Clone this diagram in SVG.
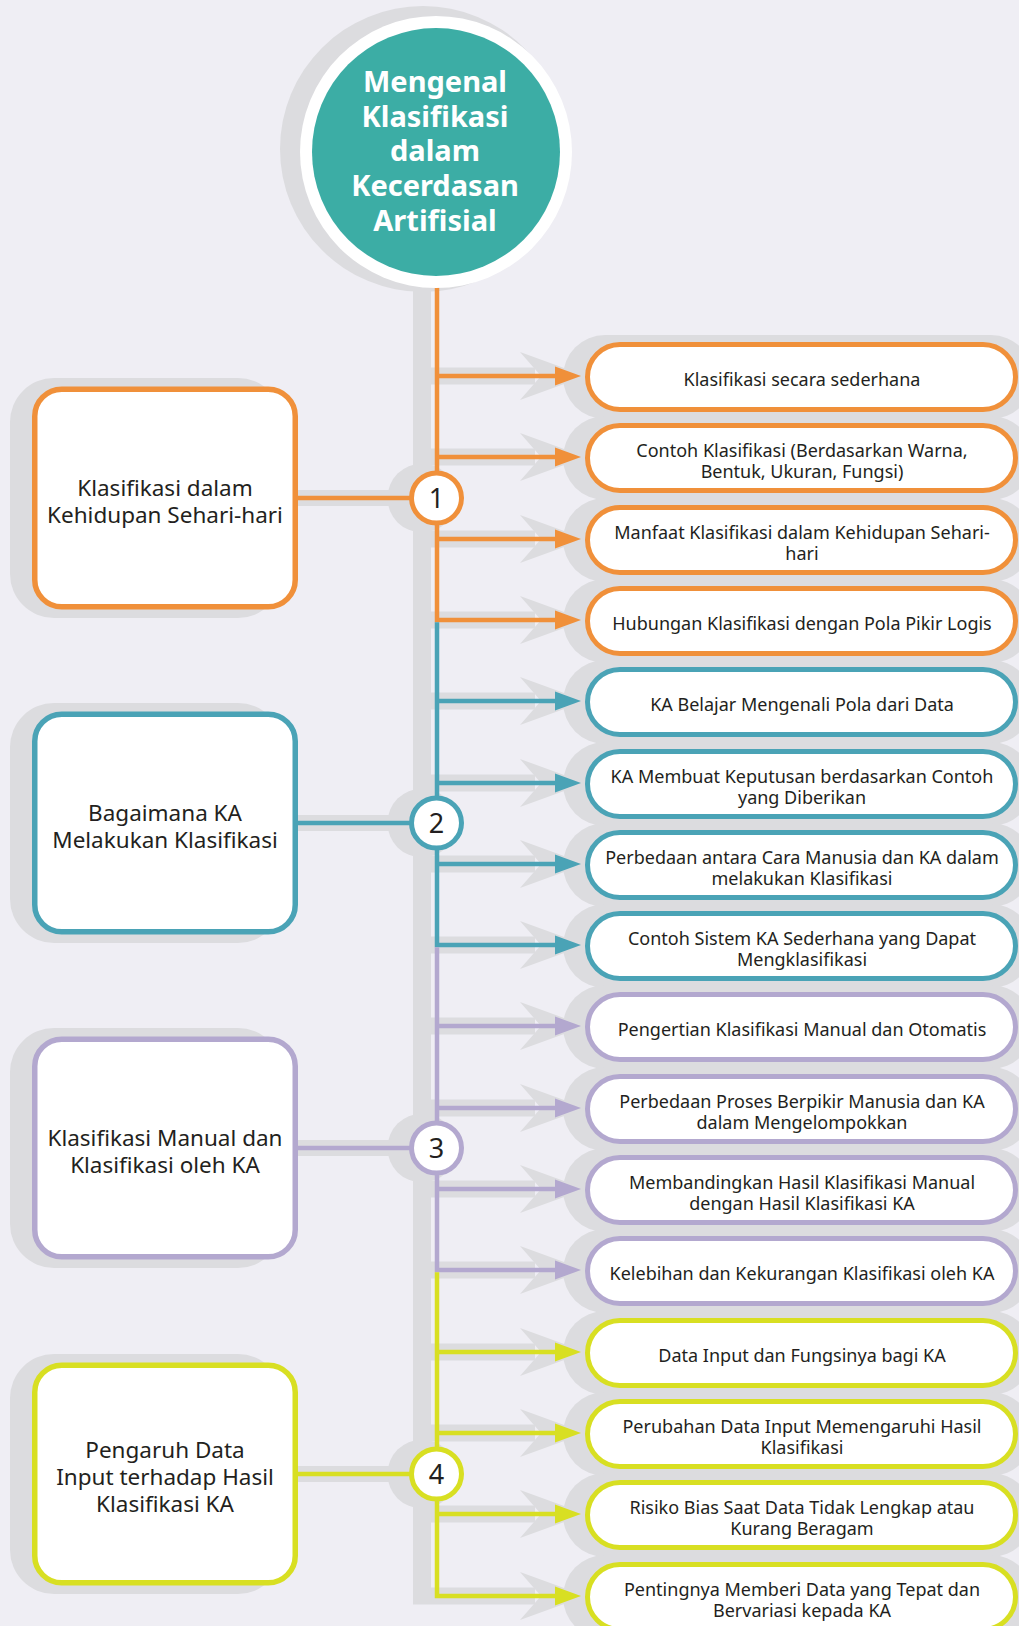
<svg xmlns="http://www.w3.org/2000/svg" width="1019" height="1626" viewBox="0 0 1019 1626">
  <style>
    .bg { fill: #efeef4; }
    .sh { fill: #dcdcdf; }
    .t { font-family: "Noto Sans", "Open Sans", "Liberation Sans", sans-serif; fill: #231f20; text-anchor: middle; }
    .item { font-size: 18px; }
    .topic { font-size: 22.5px; }
    .num { font-size: 27px; }
    .title { font-family: "Noto Sans", "Open Sans", "Liberation Sans", sans-serif; font-weight: 700; font-size: 29px; fill: #ffffff; text-anchor: middle; }
    .box { fill: #ffffff; stroke-width: 5.5; }
    .pill { fill: #ffffff; stroke-width: 5; }
    .dot { fill: #ffffff; stroke-width: 5; }
    .ln { fill: none; stroke-width: 4.5; stroke-linejoin: miter; }
    .c1 { stroke: #f0903a; } .f1 { fill: #f0903a; }
    .c2 { stroke: #4aa3b6; } .f2 { fill: #4aa3b6; }
    .c3 { stroke: #b3a8cf; } .f3 { fill: #b3a8cf; }
    .c4 { stroke: #d8df22; } .f4 { fill: #d8df22; }
  </style>
  <defs>
    <!-- grey backdrop arrow: shaft + concave chevron, origin at trunk, y=0 on arrow axis -->
    <g id="grey-arrow">
      <rect class="sh" x="413" y="-8.5" width="122" height="17"/>
      <polygon class="sh" points="520,-24 586,0 520,24 541,0"/>
    </g>
    <polygon id="head" points="555,-9.5 581,0 555,9.5"/>
  </defs>

  <rect class="bg" x="0" y="0" width="1019" height="1626"/>

  <!-- grey backdrop: trunk, bands, chevrons and drop shadows -->
  <g id="backdrop">
    <circle class="sh" cx="423" cy="149" r="143"/>
    <rect class="sh" x="413" y="260" width="18" height="1344"/>
    <!-- topic-to-trunk bands -->
    <rect class="sh" x="290" y="490" width="130" height="16"/>
    <rect class="sh" x="290" y="815" width="130" height="16"/>
    <rect class="sh" x="290" y="1140" width="130" height="16"/>
    <rect class="sh" x="290" y="1466" width="130" height="16"/>
    <!-- topic box shadows -->
    <rect class="sh" x="10" y="378" width="272" height="240" rx="44"/>
    <rect class="sh" x="10" y="703" width="272" height="240" rx="44"/>
    <rect class="sh" x="10" y="1028" width="272" height="240" rx="44"/>
    <rect class="sh" x="10" y="1354" width="272" height="240" rx="44"/>
    <!-- number badge shadows -->
    <circle class="sh" cx="422" cy="498" r="34.5"/>
    <circle class="sh" cx="422" cy="823" r="34.5"/>
    <circle class="sh" cx="422" cy="1148" r="34.5"/>
    <circle class="sh" cx="422" cy="1474" r="34.5"/>
    <!-- arrow backdrops -->
    <use href="#grey-arrow" y="376"/>
    <use href="#grey-arrow" y="457"/>
    <use href="#grey-arrow" y="539"/>
    <use href="#grey-arrow" y="620"/>
    <use href="#grey-arrow" y="701"/>
    <use href="#grey-arrow" y="783"/>
    <use href="#grey-arrow" y="864"/>
    <use href="#grey-arrow" y="945"/>
    <use href="#grey-arrow" y="1026"/>
    <use href="#grey-arrow" y="1108"/>
    <use href="#grey-arrow" y="1189"/>
    <use href="#grey-arrow" y="1270"/>
    <use href="#grey-arrow" y="1352"/>
    <use href="#grey-arrow" y="1433"/>
    <use href="#grey-arrow" y="1514"/>
    <use href="#grey-arrow" y="1596"/>
    <!-- item pill shadows -->
    <rect class="sh" x="563" y="335" width="470" height="84" rx="42"/>
    <rect class="sh" x="563" y="416" width="470" height="84" rx="42"/>
    <rect class="sh" x="563" y="498" width="470" height="84" rx="42"/>
    <rect class="sh" x="563" y="579" width="470" height="84" rx="42"/>
    <rect class="sh" x="563" y="660" width="470" height="84" rx="42"/>
    <rect class="sh" x="563" y="742" width="470" height="84" rx="42"/>
    <rect class="sh" x="563" y="823" width="470" height="84" rx="42"/>
    <rect class="sh" x="563" y="904" width="470" height="84" rx="42"/>
    <rect class="sh" x="563" y="985" width="470" height="84" rx="42"/>
    <rect class="sh" x="563" y="1067" width="470" height="84" rx="42"/>
    <rect class="sh" x="563" y="1148" width="470" height="84" rx="42"/>
    <rect class="sh" x="563" y="1229" width="470" height="84" rx="42"/>
    <rect class="sh" x="563" y="1311" width="470" height="84" rx="42"/>
    <rect class="sh" x="563" y="1392" width="470" height="84" rx="42"/>
    <rect class="sh" x="563" y="1473" width="470" height="84" rx="42"/>
    <rect class="sh" x="563" y="1555" width="470" height="84" rx="42"/>
  </g>

  <!-- connectors -->
  <g id="connectors">
    <!-- group 1 -->
    <path class="ln c1" d="M437 284 V620 H558 M437 376 H558 M437 457 H558 M437 539 H558 M298 498 H412"/>
    <use href="#head" class="f1" y="376"/>
    <use href="#head" class="f1" y="457"/>
    <use href="#head" class="f1" y="539"/>
    <use href="#head" class="f1" y="620"/>
    <!-- group 2 -->
    <path class="ln c2" d="M437 622.2 V945 H558 M437 701 H558 M437 783 H558 M437 864 H558 M298 823 H412"/>
    <use href="#head" class="f2" y="701"/>
    <use href="#head" class="f2" y="783"/>
    <use href="#head" class="f2" y="864"/>
    <use href="#head" class="f2" y="945"/>
    <!-- group 3 -->
    <path class="ln c3" d="M437 947.2 V1270 H558 M437 1026 H558 M437 1108 H558 M437 1189 H558 M298 1148 H412"/>
    <use href="#head" class="f3" y="1026"/>
    <use href="#head" class="f3" y="1108"/>
    <use href="#head" class="f3" y="1189"/>
    <use href="#head" class="f3" y="1270"/>
    <!-- group 4 -->
    <path class="ln c4" d="M437 1272.2 V1596 H558 M437 1352 H558 M437 1433 H558 M437 1514 H558 M298 1474 H412"/>
    <use href="#head" class="f4" y="1352"/>
    <use href="#head" class="f4" y="1433"/>
    <use href="#head" class="f4" y="1514"/>
    <use href="#head" class="f4" y="1596"/>
  </g>

  <!-- central title -->
  <g id="title">
    <circle cx="436" cy="152" r="136" fill="#ffffff"/>
    <circle cx="436" cy="152" r="124" fill="#3cada5"/>
    <text class="title" x="435" y="92">Mengenal</text>
    <text class="title" x="435" y="126.5">Klasifikasi</text>
    <text class="title" x="435" y="161">dalam</text>
    <text class="title" x="435" y="196">Kecerdasan</text>
    <text class="title" x="435" y="231">Artifisial</text>
  </g>

  <!-- topic boxes -->
  <g id="topic-1">
    <rect class="box c1" x="34.75" y="389.25" width="260.5" height="217.5" rx="27"/>
    <text class="t topic" x="165" y="496">Klasifikasi dalam</text>
    <text class="t topic" x="165" y="523">Kehidupan Sehari-hari</text>
  </g>
  <g id="topic-2">
    <rect class="box c2" x="34.75" y="714.25" width="260.5" height="217.5" rx="27"/>
    <text class="t topic" x="165" y="821">Bagaimana KA</text>
    <text class="t topic" x="165" y="848">Melakukan Klasifikasi</text>
  </g>
  <g id="topic-3">
    <rect class="box c3" x="34.75" y="1039.25" width="260.5" height="217.5" rx="27"/>
    <text class="t topic" x="165" y="1146">Klasifikasi Manual dan</text>
    <text class="t topic" x="165" y="1173">Klasifikasi oleh KA</text>
  </g>
  <g id="topic-4">
    <rect class="box c4" x="34.75" y="1365.25" width="260.5" height="217.5" rx="27"/>
    <text class="t topic" x="165" y="1458">Pengaruh Data</text>
    <text class="t topic" x="165" y="1485">Input terhadap Hasil</text>
    <text class="t topic" x="165" y="1512">Klasifikasi KA</text>
  </g>

  <!-- number badges -->
  <g id="num-1"><circle class="dot c1" cx="436.5" cy="498" r="25"/><text class="t num" x="436.5" y="508">1</text></g>
  <g id="num-2"><circle class="dot c2" cx="436.5" cy="823" r="25"/><text class="t num" x="436.5" y="833">2</text></g>
  <g id="num-3"><circle class="dot c3" cx="436.5" cy="1148" r="25"/><text class="t num" x="436.5" y="1158">3</text></g>
  <g id="num-4"><circle class="dot c4" cx="436.5" cy="1474" r="25"/><text class="t num" x="436.5" y="1484">4</text></g>

  <!-- item pills -->
  <g id="item-1">
    <rect class="pill c1" x="587.5" y="344.5" width="428" height="65" rx="32.5"/>
    <text class="t item" x="802" y="386">Klasifikasi secara sederhana</text>
  </g>
  <g id="item-2">
    <rect class="pill c1" x="587.5" y="425.5" width="428" height="65" rx="32.5"/>
    <text class="t item" x="802" y="457">Contoh Klasifikasi (Berdasarkan Warna,</text>
    <text class="t item" x="802" y="478">Bentuk, Ukuran, Fungsi)</text>
  </g>
  <g id="item-3">
    <rect class="pill c1" x="587.5" y="507.5" width="428" height="65" rx="32.5"/>
    <text class="t item" x="802" y="539">Manfaat Klasifikasi dalam Kehidupan Sehari-</text>
    <text class="t item" x="802" y="560">hari</text>
  </g>
  <g id="item-4">
    <rect class="pill c1" x="587.5" y="588.5" width="428" height="65" rx="32.5"/>
    <text class="t item" x="802" y="630">Hubungan Klasifikasi dengan Pola Pikir Logis</text>
  </g>
  <g id="item-5">
    <rect class="pill c2" x="587.5" y="669.5" width="428" height="65" rx="32.5"/>
    <text class="t item" x="802" y="711">KA Belajar Mengenali Pola dari Data</text>
  </g>
  <g id="item-6">
    <rect class="pill c2" x="587.5" y="751.5" width="428" height="65" rx="32.5"/>
    <text class="t item" x="802" y="783">KA Membuat Keputusan berdasarkan Contoh</text>
    <text class="t item" x="802" y="804">yang Diberikan</text>
  </g>
  <g id="item-7">
    <rect class="pill c2" x="587.5" y="832.5" width="428" height="65" rx="32.5"/>
    <text class="t item" x="802" y="864">Perbedaan antara Cara Manusia dan KA dalam</text>
    <text class="t item" x="802" y="885">melakukan Klasifikasi</text>
  </g>
  <g id="item-8">
    <rect class="pill c2" x="587.5" y="913.5" width="428" height="65" rx="32.5"/>
    <text class="t item" x="802" y="945">Contoh Sistem KA Sederhana yang Dapat</text>
    <text class="t item" x="802" y="966">Mengklasifikasi</text>
  </g>
  <g id="item-9">
    <rect class="pill c3" x="587.5" y="994.5" width="428" height="65" rx="32.5"/>
    <text class="t item" x="802" y="1036">Pengertian Klasifikasi Manual dan Otomatis</text>
  </g>
  <g id="item-10">
    <rect class="pill c3" x="587.5" y="1076.5" width="428" height="65" rx="32.5"/>
    <text class="t item" x="802" y="1108">Perbedaan Proses Berpikir Manusia dan KA</text>
    <text class="t item" x="802" y="1129">dalam Mengelompokkan</text>
  </g>
  <g id="item-11">
    <rect class="pill c3" x="587.5" y="1157.5" width="428" height="65" rx="32.5"/>
    <text class="t item" x="802" y="1189">Membandingkan Hasil Klasifikasi Manual</text>
    <text class="t item" x="802" y="1210">dengan Hasil Klasifikasi KA</text>
  </g>
  <g id="item-12">
    <rect class="pill c3" x="587.5" y="1238.5" width="428" height="65" rx="32.5"/>
    <text class="t item" x="802" y="1280">Kelebihan dan Kekurangan Klasifikasi oleh KA</text>
  </g>
  <g id="item-13">
    <rect class="pill c4" x="587.5" y="1320.5" width="428" height="65" rx="32.5"/>
    <text class="t item" x="802" y="1362">Data Input dan Fungsinya bagi KA</text>
  </g>
  <g id="item-14">
    <rect class="pill c4" x="587.5" y="1401.5" width="428" height="65" rx="32.5"/>
    <text class="t item" x="802" y="1433">Perubahan Data Input Memengaruhi Hasil</text>
    <text class="t item" x="802" y="1454">Klasifikasi</text>
  </g>
  <g id="item-15">
    <rect class="pill c4" x="587.5" y="1482.5" width="428" height="65" rx="32.5"/>
    <text class="t item" x="802" y="1514">Risiko Bias Saat Data Tidak Lengkap atau</text>
    <text class="t item" x="802" y="1535">Kurang Beragam</text>
  </g>
  <g id="item-16">
    <rect class="pill c4" x="587.5" y="1564.5" width="428" height="65" rx="32.5"/>
    <text class="t item" x="802" y="1596">Pentingnya Memberi Data yang Tepat dan</text>
    <text class="t item" x="802" y="1617">Bervariasi kepada KA</text>
  </g>
</svg>
